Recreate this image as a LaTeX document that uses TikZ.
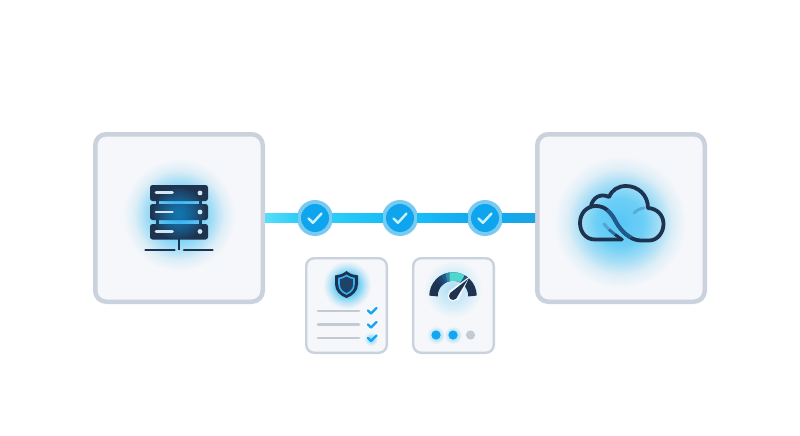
\documentclass[tikz,border=0pt]{standalone}
\usetikzlibrary{calc}
\definecolor{cardbg}{HTML}{F5F7FA}
\definecolor{cardline}{HTML}{C9D2DD}
\definecolor{ink}{HTML}{1E3350}
\definecolor{inkb}{HTML}{1F5A8C}
\definecolor{ringc}{HTML}{78CBF0}
\definecolor{discc}{HTML}{0EA5EE}
\definecolor{tickc}{HTML}{C8F2FF}
\definecolor{barc}{HTML}{D3E6F2}
\definecolor{greyc}{HTML}{C4CAD4}
\definecolor{bluec}{HTML}{12A5F2}
\definecolor{tealc}{HTML}{4FD8D0}
\definecolor{ga}{HTML}{55DEF9}
\definecolor{gb}{HTML}{2CCDF8}
\definecolor{gc}{HTML}{18BDF8}
\definecolor{gd}{HTML}{12AAF0}
\definecolor{ge}{HTML}{1BA3E4}
\definecolor{h0}{HTML}{58C6F6}
\definecolor{h1}{HTML}{6CCFF6}
\definecolor{h2}{HTML}{A6DEF6}
\definecolor{h3}{HTML}{DDEEF7}
\definecolor{k0}{HTML}{4DC2F5}
\definecolor{k1}{HTML}{6BCFF5}
\definecolor{k2}{HTML}{C2E6F7}
\definecolor{f0}{HTML}{A8DEF6}
\definecolor{f1}{HTML}{D4ECF7}
\pgfdeclareradialshading{glowbig}{\pgfpoint{0bp}{0bp}}{
 color(0bp)=(h0);
 color(9bp)=(h1);
 color(15bp)=(h2);
 color(20bp)=(h3);
 color(25bp)=(cardbg);
 color(50bp)=(cardbg)}
\pgfdeclareradialshading{glowsmall}{\pgfpoint{0bp}{0bp}}{
 color(0bp)=(k0);
 color(12bp)=(k1);
 color(19bp)=(k2);
 color(25bp)=(cardbg);
 color(50bp)=(cardbg)}
\pgfdeclareradialshading{glowfaint}{\pgfpoint{0bp}{0bp}}{
 color(0bp)=(f0);
 color(14bp)=(f1);
 color(25bp)=(cardbg);
 color(50bp)=(cardbg)}
\pgfdeclareradialshading{glowdot}{\pgfpoint{0bp}{0bp}}{
 color(0bp)=(k1);
 color(14bp)=(k2);
 color(25bp)=(cardbg);
 color(50bp)=(cardbg)}
\tikzset{
 bigcard/.style={draw=cardline,fill=cardbg,line width=4.5pt,rounded corners=11pt,minimum width=167.5pt,minimum height=167.5pt,inner sep=0pt},
 smallcard/.style={draw=cardline,fill=cardbg,line width=2.4pt,rounded corners=8pt,minimum width=80.6pt,minimum height=94.6pt,inner sep=0pt},
 rackunit/.style={fill=ink,rounded corners=2.5pt},
 rackbar/.style={draw=barc,line width=2.6pt,line cap=round},
 baseline/.style={draw=ink,line width=2.6pt,line cap=round},
 ringnode/.style={circle,fill=ringc,draw=none,minimum size=36pt,inner sep=0pt},
 discnode/.style={circle,fill=discc,draw=none,minimum size=28pt,inner sep=0pt},
 tick/.style={draw=tickc,line width=2.4pt,line cap=round,line join=round},
 cloudline/.style={draw=ink,line width=3.8pt,line cap=round,line join=round},
 listline/.style={draw=greyc,line width=2.8pt,line cap=round},
 listtick/.style={draw=bluec,line width=2.2pt,line cap=round,line join=round},
 gaugearc/.style={line width=8.5pt},
}
\begin{document}
\begin{tikzpicture}[x=1pt,y=-1pt]
\useasboundingbox (0,0) rectangle (800,436);
\fill[white] (0,0) rectangle (800,436);
% cards
\node[bigcard] (server) at (179,218) {};
\node[bigcard] (cloud) at (621,218) {};
\node[smallcard] (list) at (346.5,305.5) {};
\node[smallcard] (gauge) at (453.5,305.5) {};
% glows
\shade[shading=glowbig] (179,215) circle (56);
\shade[shading=glowbig] (620,222) circle (66);
\shade[shading=glowsmall] (347,285) circle (24);
\shade[shading=glowfaint] (453,289) circle (29);
\shade[shading=glowdot] (371,339) circle (7);
\shade[shading=glowdot] (436,335) circle (9);
\shade[shading=glowdot] (453,335) circle (9);
% server
\fill[rackunit] (150,185) rectangle (208,201);
\fill[rackunit] (150,204) rectangle (208,220);
\fill[rackunit] (150,224) rectangle (208,239.5);
\fill[ink] (156,200) rectangle (159,225);
\fill[ink] (199,200) rectangle (202,225);
\fill[ringc] (159,201.5) rectangle (199,204);
\fill[ringc] (159,220.5) rectangle (199,223.5);
\foreach \r in {4,6,...,26}{
 \fill[bluec,fill opacity=.07] (179,214) circle (\r);
}
\draw[rackbar] (156,192.5) -- (172.5,192.5);
\draw[rackbar] (156,212) -- (172.5,212);
\draw[rackbar] (156,231.5) -- (172.5,231.5);
\fill[barc] (200,193) circle (2.4) (200,212) circle (2.4) (200,231.5) circle (2.4);
\draw[draw=ink,line width=2.4pt] (179,239) -- (179,250);
\draw[baseline] (145.5,250) -- (174.5,250);
\draw[baseline] (184,250) -- (212.5,250);
% cloud
\draw[cloudline] (622,239.5) -- (595,239.5)
  .. controls (585,239.5) and (580,231) .. (580,223)
  .. controls (580,213) and (587,206) .. (596,206)
  .. controls (605,206) and (611,212) .. (616,222)
  .. controls (621,231) and (630,240.5) .. (641,240.5)
  -- (649,240.5)
  .. controls (658,240.5) and (663.5,232) .. (663.5,224)
  .. controls (663.5,215) and (657,208.5) .. (648,208)
  .. controls (648,195) and (638,186) .. (626,186)
  .. controls (618,186) and (612,190) .. (609,197)
  .. controls (601,193) and (593,197) .. (591,206);
\draw[draw=inkb,line width=3.6pt] (607,210) .. controls (611,214) and (613.5,217.5) .. (616,222) .. controls (620,229) and (625,234) .. (631,237.5);
\draw[draw=inkb!35!h1,line width=3pt,line cap=round] (604,224) -- (609,229.5);
\draw[draw=inkb!80!h1,line width=3pt] (609,229.5) -- (615,234.5);
\draw[draw=ink,line width=3pt] (615,234.5) -- (622,239.5);
\draw[draw=inkb!30!h1,line width=2.8pt,line cap=round] (634,213) .. controls (637,210) and (640,208.5) .. (644,208);
% connector
\node[ringnode] (r1) at (315,218) {};
\node[ringnode] (r2) at (400,218) {};
\node[ringnode] (r3) at (485,218) {};
\shade[left color=ga,right color=gb] ($(server.east)+(0,-4.8)$) rectangle ($(r1.west)+(1,4.8)$);
\shade[left color=gb,right color=gc] ($(r1.east)+(-1,-4.8)$) rectangle ($(r2.west)+(1,4.8)$);
\shade[left color=gc,right color=gd] ($(r2.east)+(-1,-4.8)$) rectangle ($(r3.west)+(1,4.8)$);
\shade[left color=gd,right color=ge] ($(r3.east)+(-1,-4.8)$) rectangle ($(cloud.west)+(0,4.8)$);
\node[discnode] (d1) at (r1) {};
\node[discnode] (d2) at (r2) {};
\node[discnode] (d3) at (r3) {};
\foreach \n in {d1,d2,d3}{
 \draw[tick] ($(\n)+(-6.5,0.5)$) -- ($(\n)+(-2,4.8)$) -- ($(\n)+(6.5,-4.5)$);
}
% shield
\path[fill=ink] (346.5,271) .. controls (342,274.5) and (339,275) .. (335,275.5)
  -- (335,284) .. controls (335,291) and (340,295.5) .. (346.5,298)
  .. controls (353,295.5) and (358,291) .. (358,284)
  -- (358,275.5) .. controls (354,275) and (351,274.5) .. (346.5,271) -- cycle;
\path[draw=bluec!85!white,line width=1.6pt,fill=inkb!40!ink] (346.5,275.5) .. controls (343.5,277.5) and (341.5,278) .. (339,278.5)
  -- (339,284) .. controls (339,289) and (342,292) .. (346.5,294)
  .. controls (351,292) and (354,289) .. (354,284)
  -- (354,278.5) .. controls (351.5,278) and (349.5,277.5) .. (346.5,275.5) -- cycle;
% list
\draw[listline] (318,311) -- (359,311);
\draw[listline] (318,324.5) -- (359,324.5);
\draw[listline] (318,338) -- (359,338);
\draw[listtick] (368,310.5) -- (371,313.5) -- (376.5,308);
\draw[listtick] (368,324.5) -- (371,327.5) -- (376.5,322);
\draw[listtick] (368,338) -- (371,341) -- (376.5,335.5);
% gauge arc
\draw[draw=ink,gaugearc] (453,296) ++(-180:19.5) arc[start angle=-180,end angle=0,radius=19.5];
\foreach \a/\c in {140/ink!80!inkb,130/ink!50!inkb,120/inkb,110/inkb!60!tealc}{
 \draw[draw=\c,gaugearc] (453,296) ++(-\a:19.5) arc[start angle=-\a,end angle=-\a+10.8,radius=19.5];
}
\draw[draw=tealc,gaugearc] (453,296) ++(-100:19.5) arc[start angle=-100,end angle=-60,radius=19.5];
\draw[draw=inkb,gaugearc] (453,296) ++(-60:19.5) arc[start angle=-60,end angle=-48,radius=19.5];
% needle
\fill[cardbg] (448.5,291.5) -- (469.5,276.5) -- (458,301) -- cycle;
\fill[cardbg] (453,296) circle (5.5);
\fill[ink] (453,296) circle (4);
\fill[ink] (450.2,293) -- (468,279) -- (456,298.8) -- cycle;
% dots
\fill[bluec] (436,335) circle (4.6) (453,335) circle (4.6);
\fill[greyc] (470.5,335) circle (4.6);
\end{tikzpicture}
\end{document}
